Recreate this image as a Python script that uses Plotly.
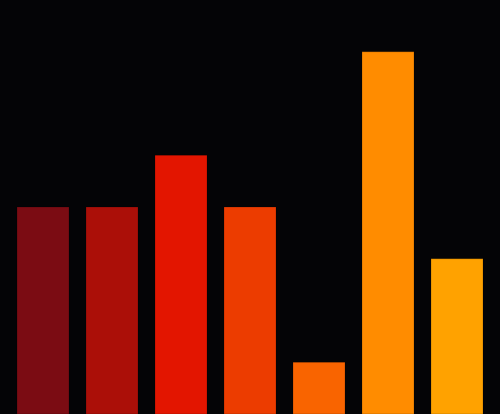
import plotly.graph_objects as go

categories = ["A", "B", "C", "D", "E", "F", "G"]
values = [4, 4, 5, 4, 1, 7, 3]
colors = ["#7b0c13", "#ab0f08", "#e31500", "#ec3c00", "#f96400", "#ff8c00", "#ffa200"]

fig = go.Figure(
    go.Bar(
        x=list(range(len(categories))),
        y=values,
        marker=dict(color=colors, line=dict(color="rgba(0,0,0,0.18)", width=1)),
        hovertext=categories,
    )
)

half = 250 / 69
fig.update_layout(
    width=500,
    height=414,
    margin=dict(l=0, r=0, t=0, b=0),
    paper_bgcolor="#040406",
    plot_bgcolor="#040406",
    bargap=1 - 52 / 69,
    showlegend=False,
    xaxis=dict(visible=False, range=[3 - half, 3 + half]),
    yaxis=dict(visible=False, range=[0, 8]),
)

# drop the page's default body margin so the chart fills the window
fig.write_html(
    "out.html",
    config={"displayModeBar": False},
    post_script="document.body.style.margin='0';document.body.style.background='#040406';",
)
